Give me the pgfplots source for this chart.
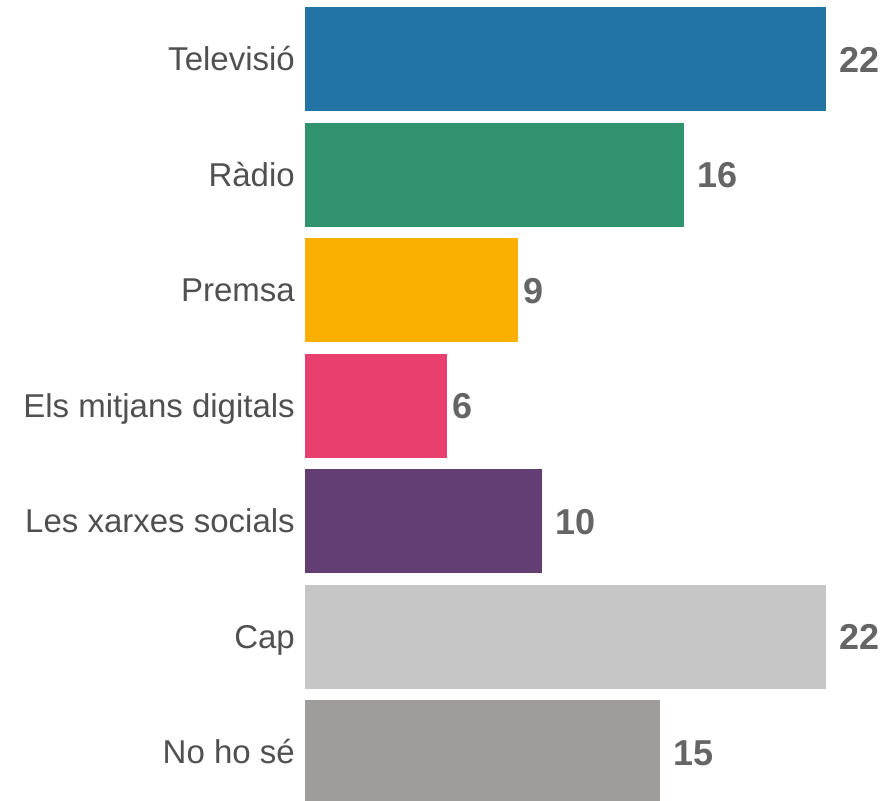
\documentclass[border=0pt]{standalone}
\usepackage{pgfplots}
\pgfplotsset{compat=1.18}
\usepackage{fontspec}
\setmainfont{Liberation Sans}

\definecolor{cTV}{HTML}{2274A5}
\definecolor{cRadio}{HTML}{32936F}
\definecolor{cPremsa}{HTML}{FAB000}
\definecolor{cDigital}{HTML}{E83F6F}
\definecolor{cXarxes}{HTML}{633E72}
\definecolor{cCap}{HTML}{C6C6C6}
\definecolor{cNS}{HTML}{9E9D9B}
\definecolor{labelgray}{HTML}{505050}
\definecolor{valgray}{HTML}{656565}

\begin{document}
\begin{tikzpicture}
\begin{axis}[
    at={(0pt,0pt)}, anchor=south west,
    scale only axis, width=521pt, height=801pt,
    xmin=0, xmax=22,
    ymin=-0.511, ymax=6.424, y dir=reverse,
    xbar,
    every axis plot/.append style={bar width=0.9, bar shift=0pt, draw=none},
    hide x axis,
    axis y line*=left,
    y axis line style={draw=none},
    ytick={0,...,6},
    yticklabels={Televisió, Ràdio, Premsa, Els mitjans digitals, Les xarxes socials, Cap, No ho sé},
    ytick style={draw=none}, major tick length=0pt,
    yticklabel style={font=\fontsize{33}{33}\selectfont, text=labelgray, inner sep=0pt,
        anchor=east, text height=23.5pt, text depth=0pt, xshift=-10pt},
    /pgf/number format/assume math mode=true,
    nodes near coords,
    nodes near coords style={font=\fontsize{36}{36}\selectfont\bfseries, text=valgray,
        inner sep=0pt, anchor=west, text height=26pt, text depth=0pt},
    clip=false,
]
\addplot[fill=cTV, every node near coord/.append style={xshift=13pt}] coordinates {(22,0)};
\addplot[fill=cRadio, every node near coord/.append style={xshift=13pt}] coordinates {(16,1)};
\addplot[fill=cPremsa, every node near coord/.append style={xshift=5pt}] coordinates {(9,2)};
\addplot[fill=cDigital, every node near coord/.append style={xshift=5pt}] coordinates {(6,3)};
\addplot[fill=cXarxes, every node near coord/.append style={xshift=13pt}] coordinates {(10,4)};
\addplot[fill=cCap, every node near coord/.append style={xshift=13pt}] coordinates {(22,5)};
\addplot[fill=cNS, every node near coord/.append style={xshift=13pt}] coordinates {(15,6)};
\end{axis}
\pgfresetboundingbox
\path[use as bounding box] (-305pt,0pt) rectangle (582pt,801pt);
\end{tikzpicture}
\end{document}
